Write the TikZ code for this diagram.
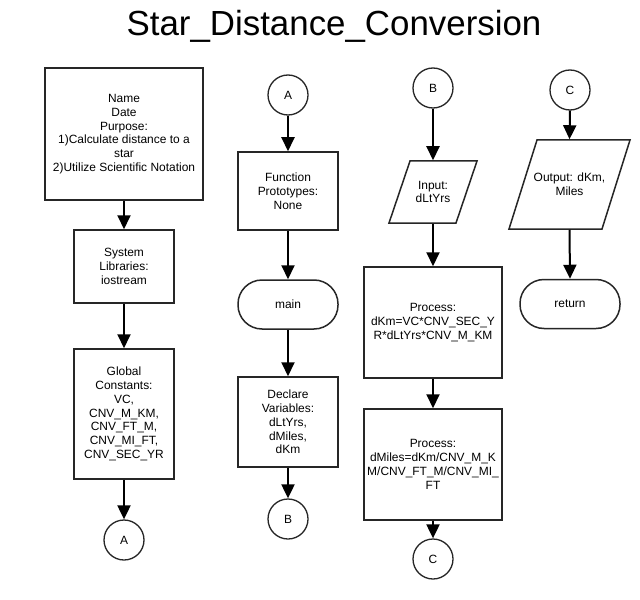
\documentclass[tikz,border=0pt]{standalone}
\usepackage{fontspec}
\setmainfont{Liberation Sans}
\usetikzlibrary{arrows.meta}
\begin{document}
\begin{tikzpicture}[x=1bp,y=-1bp,
  lbl/.style={font=\fontsize{12}{13.8}\selectfont, align=center, text=black},
  boxw/.style={lbl, draw=black!85, line width=1.5bp, inner sep=0pt},
  term/.style={boxw, rounded corners=24bp, minimum width=100bp, minimum height=49bp},
  conn/.style={lbl, circle, draw=black!85, line width=1.3bp, minimum size=40bp, inner sep=0pt},
  pshape/.style={draw=black!85, line width=1.5bp},
  flow/.style={draw=black, line width=2bp, -{Triangle[length=14bp,width=13bp]}}]
\useasboundingbox[fill=white] (0,0) rectangle (640,600);

\node[font=\fontsize{35}{41}\selectfont] (title) at (334,26) {Star\_Distance\_Conversion};

% column 1
\node[boxw, minimum width=157bp, minimum height=132bp, line width=2bp] (intro) at (124,134)
  {Name\\Date\\Purpose:\\1)Calculate distance to a\\star\\2)Utilize Scientific Notation};
\node[boxw, minimum width=100bp, minimum height=73bp] (sys) at (124,266.5)
  {System\\Libraries:\\iostream};
\node[boxw, minimum width=100bp, minimum height=130bp] (glob) at (124,414)
  {Global\\Constants:\\VC,\\CNV\_M\_KM,\\CNV\_FT\_M,\\CNV\_MI\_FT,\\CNV\_SEC\_YR};
\node[conn] (a1) at (124,540) {A};
\draw[flow] (intro.south) -- (sys.north);
\draw[flow] (sys.south) -- (glob.north);
\draw[flow] (glob.south) -- (a1.north);

% column 2
\node[conn] (a2) at (288,95) {A};
\node[boxw, minimum width=100bp, minimum height=78bp] (proto) at (288,191)
  {Function\\Prototypes:\\None};
\node[term] (main) at (288,304.5) {main};
\node[boxw, minimum width=100bp, minimum height=90bp] (decl) at (288,422)
  {Declare\\Variables:\\dLtYrs,\\dMiles,\\dKm};
\node[conn] (b1) at (288,519) {B};
\draw[flow] (a2.south) -- (proto.north);
\draw[flow] (proto.south) -- (main.north);
\draw[flow] (main.south) -- (decl.north);
\draw[flow] (decl.south) -- (b1.north);

% column 3
\node[conn] (b2) at (433,88) {B};
\draw[pshape] (410,161) -- (477,161) -- (456,223) -- (389,223) -- cycle;
\node[lbl, minimum width=60bp, minimum height=62bp, inner sep=0pt, outer sep=0.75bp] (inp) at (433,192) {Input:\\dLtYrs};
\node[boxw, minimum width=138bp, minimum height=111bp] (p1) at (433,322.5)
  {Process:\\dKm=VC*CNV\_SEC\_Y\\R*dLtYrs*CNV\_M\_KM};
\node[boxw, minimum width=138bp, minimum height=111bp] (p2) at (433,464.5)
  {Process:\\dMiles=dKm/CNV\_M\_K\\M/CNV\_FT\_M/CNV\_MI\_\\FT};
\node[conn] (c1) at (433,559) {C};
\draw[flow] (b2.south) -- (inp.north);
\draw[flow] (inp.south) -- (p1.north);
\draw[flow] (p1.south) -- (p2.north);
\draw[flow] (p2.south) -- (c1.north);

% column 4
\node[conn] (c2) at (570,90) {C};
\draw[pshape] (537,140) -- (630,140) -- (602,229) -- (509,229) -- cycle;
\node[lbl, minimum width=80bp, minimum height=89bp, inner sep=0pt, outer sep=0.75bp] (outp) at (569.5,184.5) {Output: dKm,\\Miles};
\node[term] (ret) at (570,304) {return};
\draw[flow] (c2.south) -- (outp.north);
\draw[flow] (outp.south) -- (ret.north);
\end{tikzpicture}
\end{document}
